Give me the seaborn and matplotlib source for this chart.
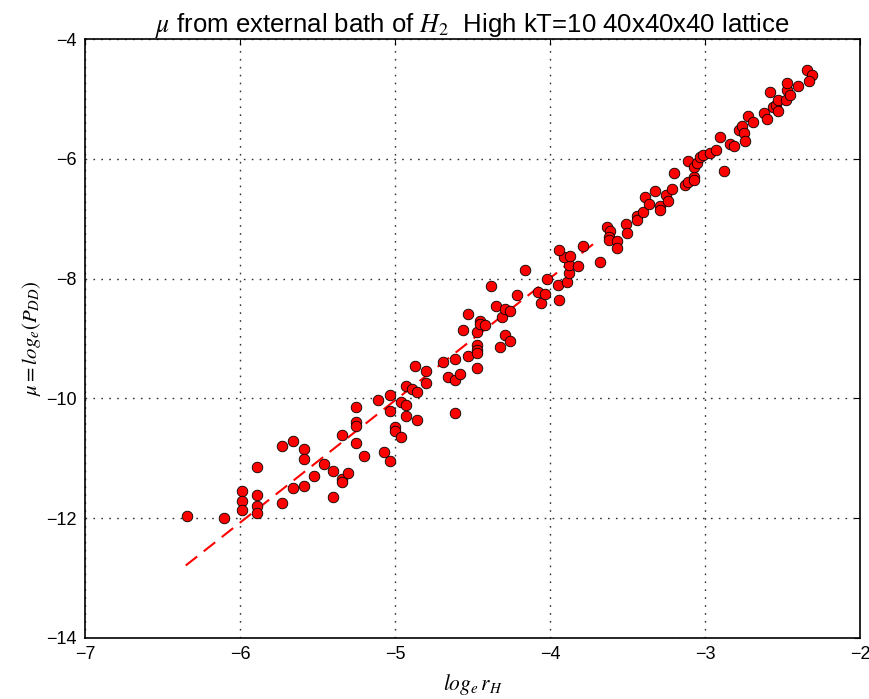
import numpy as np
import pandas as pd
import matplotlib
matplotlib.use("Agg")
import matplotlib.pyplot as plt
import seaborn as sns

# points (log_e r_H, mu)
log_r = [-6.34, -6.10, -5.99, -5.99, -5.99, -5.89, -5.89, -5.89, -5.89, -5.73,
         -5.73, -5.66, -5.66, -5.59, -5.59, -5.59, -5.52, -5.46, -5.40, -5.40,
         -5.34, -5.34, -5.30, -5.34, -5.25, -5.25, -5.25, -5.25, -5.20, -5.11,
         -5.07, -5.03, -5.03, -5.00, -5.00, -4.96, -4.96,
         -5.03, -4.93, -4.93, -4.93, -4.89, -4.86, -4.86, -4.87, -4.80, -4.80,
         -4.69, -4.66, -4.61, -4.61, -4.58, -4.61, -4.53, -4.53, -4.56, -4.47,
         -4.47, -4.47, -4.47, -4.47, -4.45, -4.45, -4.42, -4.38, -4.35, -4.32,
         -4.31, -4.29, -4.29, -4.26, -4.26, -4.21, -4.16, -4.08, -4.06, -4.03,
         -4.02, -3.95, -3.94, -3.89, -3.88, -3.88, -3.82, -3.68,
         -3.91, -3.87, -3.94, -3.79, -3.63, -3.61, -3.62, -3.62, -3.57, -3.57,
         -3.51, -3.50, -3.44, -3.44, -3.40, -3.39, -3.36, -3.32, -3.29, -3.29,
         -3.25, -3.24, -3.21, -3.20, -3.13, -3.11, -3.11, -3.07, -3.07, -3.07,
         -3.05, -3.03, -3.01, -2.97, -2.93, -2.88, -2.90, -2.84, -2.81,
         -2.78, -2.76, -2.75, -2.74, -2.72, -2.69, -2.62, -2.60, -2.58, -2.56,
         -2.54, -2.53, -2.53, -2.48, -2.47, -2.47, -2.45, -2.40, -2.34, -2.31,
         -2.33]
mu = [-11.96, -12.00, -11.54, -11.71, -11.86, -11.15, -11.61, -11.80, -11.91, -11.75,
      -10.79, -10.71, -11.50, -10.85, -11.01, -11.46, -11.30, -11.10, -11.21, -11.64,
      -11.34, -11.40, -11.25, -10.61, -10.14, -10.39, -10.46, -10.75, -10.96, -10.03,
      -10.90, -11.05, -10.21, -10.48, -10.54, -10.64, -10.06,
      -9.95, -9.79, -10.11, -10.29, -9.84, -9.90, -10.36, -9.46, -9.54, -9.75,
      -9.39, -9.64, -9.35, -9.70, -9.60, -10.25, -9.29, -8.59, -8.85, -8.89,
      -9.11, -9.19, -9.25, -9.50, -8.70, -8.76, -8.78, -8.13, -8.45, -9.15,
      -8.64, -8.50, -8.95, -9.04, -8.54, -8.28, -7.85, -8.22, -8.40, -8.25,
      -8.00, -8.10, -8.35, -8.05, -7.91, -7.77, -7.79, -7.72,
      -7.64, -7.62, -7.52, -7.46, -7.14, -7.20, -7.30, -7.35, -7.38, -7.49,
      -7.09, -7.24, -6.95, -7.02, -6.89, -6.63, -6.75, -6.53, -6.79, -6.85,
      -6.60, -6.70, -6.50, -6.24, -6.44, -6.38, -6.03, -6.30, -6.35, -6.14,
      -6.07, -5.97, -5.94, -5.90, -5.85, -6.20, -5.64, -5.75, -5.79,
      -5.52, -5.46, -5.57, -5.70, -5.28, -5.38, -5.24, -5.34, -4.88, -5.14,
      -5.10, -5.20, -5.01, -5.02, -4.85, -4.73, -4.93, -4.78, -4.52, -4.60,
      -4.70]

# dashed fit line end points
fit_x = [-6.35, -3.69]
fit_y = [-12.79, -7.36]

df = pd.DataFrame({"log_r": log_r, "mu": mu})
fit = pd.DataFrame({"x": fit_x, "y": fit_y})

sns.set_style("white")
plt.rcParams["font.family"] = ["Liberation Sans", "DejaVu Sans"]
plt.rcParams["mathtext.fontset"] = "stix"
plt.rcParams["text.color"] = "black"
plt.rcParams["axes.labelcolor"] = "black"

fig = plt.figure(figsize=(8.69, 6.99), dpi=100)
ax = fig.add_axes([0.0978, 0.0873, 0.8918, 0.8569])

sns.lineplot(data=fit, x="x", y="y", ax=ax, color="red", lw=1.5,
             dashes=False, zorder=2)
ax.lines[0].set_dashes([7, 4])
sns.scatterplot(data=df, x="log_r", y="mu", ax=ax, color="red",
                edgecolor="black", linewidth=0.6, s=58, zorder=3)

ax.set_xlim(-7, -2)
ax.set_ylim(-14, -4)
ax.set_xticks([-7, -6, -5, -4, -3, -2])
ax.set_yticks([-14, -12, -10, -8, -6, -4])
ax.grid(True, color="#333333", linestyle=(0, (1.2, 4.5)), linewidth=1.0)
ax.tick_params(direction="in", top=True, right=True, length=4,
               labelsize=13, colors="black", pad=6)
for sp in ax.spines.values():
    sp.set_color("black")
    sp.set_linewidth(1.2)

ax.set_title(r"$\mu$ from external bath of $H_2$  High kT=10 40x40x40 lattice",
             fontsize=18.5, pad=5, color="black")
ax.set_xlabel(r"$log_e\,r_H$", fontsize=15.5, labelpad=6)
ax.set_ylabel(r"$\mu = log_e(P_{DD})$", fontsize=15, labelpad=2)

fig.savefig("out.png", dpi=100, facecolor="white")
